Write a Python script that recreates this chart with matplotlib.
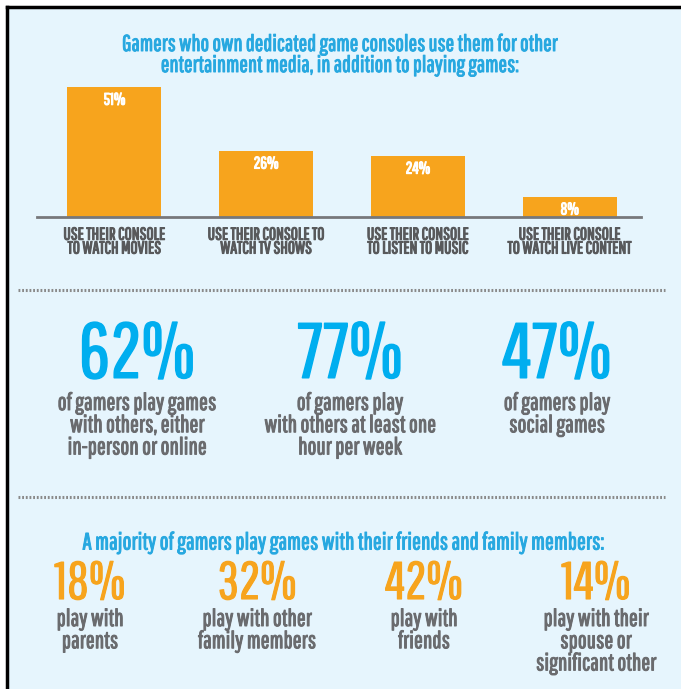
import matplotlib.pyplot as plt
import matplotlib.patheffects as pe
from matplotlib import font_manager
from matplotlib.patches import Rectangle
from matplotlib.lines import Line2D

# console usage bars
uses = ["USE THEIR CONSOLE\nTO WATCH MOVIES", "USE THEIR CONSOLE TO\nWATCH TV SHOWS",
        "USE THEIR CONSOLE\nTO LISTEN TO MUSIC", "USE THEIR CONSOLE\nTO WATCH LIVE CONTENT"]
use_pct = [51, 26, 24, 8]

# big blue stats
social_pct = [62, 77, 47]
social_text = ["of gamers play games\nwith others, either\nin-person or online",
               "of gamers play\nwith others at least one\nhour per week",
               "of gamers play\nsocial games"]

# who they play with
with_pct = [18, 32, 42, 14]
with_text = ["play with\nparents", "play with other\nfamily members",
             "play with\nfriends", "play with their\nspouse or\nsignificant other"]

W, H = 681, 689
BG = "#e6f5fd"
ORANGE = "#f7a41d"
BLUE = "#00aeef"
TITLE_BLUE = "#27a8e0"
GRAY = "#6a6b6e"
DARK = "#58595b"

# pick a condensed gothic face
have = {f.name for f in font_manager.fontManager.ttflist}
for name in ["Pathway Gothic One", "Oswald", "Roboto Condensed", "Barlow Condensed",
             "Archivo Narrow", "PT Sans Narrow", "Liberation Sans"]:
    if name in have:
        FONT = name
        break
plt.rcParams["font.family"] = [FONT, "DejaVu Sans"]


def heavy(color, w=0.7):
    # fake a bolder weight, the face only comes in one
    return [pe.withStroke(linewidth=w, foreground=color)]


fig = plt.figure(figsize=(W / 100, H / 100), dpi=100, facecolor="white")


def px(x, y):
    return x / W, 1 - y / H


# panel background and black frame on top/left
fig.patches.append(Rectangle(px(7, H), (W - 7) / W, (H - 7) / H,
                             transform=fig.transFigure, facecolor=BG, edgecolor="none", zorder=-5))
fig.lines.append(Line2D([7 / W, 1], [1 - 7 / H] * 2, transform=fig.transFigure, color="black", lw=2.5))
fig.lines.append(Line2D([7 / W] * 2, [0, 1 - 7 / H], transform=fig.transFigure, color="black", lw=2.5))

fig.text(*px(339, 55), "Gamers who own dedicated game consoles use them for other\n"
         "entertainment media, in addition to playing games:",
         ha="center", va="center", color=TITLE_BLUE, fontsize=16.4, linespacing=1.0,
         path_effects=heavy(TITLE_BLUE))

# bar chart
ax = fig.add_axes([37 / W, 1 - 217 / H, 604 / W, 137 / H])
ax.set_facecolor("none")
xs = range(len(uses))
bars = ax.bar(xs, use_pct, width=0.62, color=ORANGE)
for b, v in zip(bars, use_pct):
    ax.text(b.get_x() + b.get_width() / 2, v - 1.9, f"{v}%", ha="center", va="top",
            color="white", fontsize=12, path_effects=heavy("white", 0.8))
ax.set_xlim(-0.51, 3.47)
ax.set_ylim(0, 53.7)
ax.set_yticks([])
ax.set_xticks(list(xs))
ax.set_xticklabels(uses, fontsize=12.5, color=DARK, linespacing=0.83)
for lab in ax.get_xticklabels():
    lab.set_path_effects(heavy(DARK, 0.8))
ax.tick_params(axis="x", length=0, pad=7)
for s in ["top", "left", "right"]:
    ax.spines[s].set_visible(False)
ax.spines["bottom"].set_color("#77787b")
ax.spines["bottom"].set_linewidth(2)

# dotted separators
for y in (290, 497):
    fig.lines.append(Line2D([18 / W, 665 / W], [1 - y / H] * 2, transform=fig.transFigure,
                            color="#8a8a8a", lw=2.2, linestyle=(0, (0.6, 0.6))))

for x, v, t in zip([137, 350, 557], social_pct, social_text):
    fig.text(*px(x, 356), f"{v}%", ha="center", va="center", color=BLUE, fontsize=56,
             path_effects=heavy(BLUE, 1.1))
    fig.text(*px(x, 393), t, ha="center", va="top", color=GRAY, fontsize=17, linespacing=1.07,
             path_effects=heavy(GRAY))

fig.text(*px(343, 543), "A majority of gamers play games with their friends and family members:",
         ha="center", va="center", color=TITLE_BLUE, fontsize=17, path_effects=heavy(TITLE_BLUE))

for x, v, t in zip([90, 257, 424, 596], with_pct, with_text):
    fig.text(*px(x, 584), f"{v}%", ha="center", va="center", color=ORANGE, fontsize=38,
             path_effects=heavy(ORANGE, 0.8))
    fig.text(*px(x, 609), t, ha="center", va="top", color=GRAY, fontsize=17, linespacing=1.07,
             path_effects=heavy(GRAY))

fig.savefig("out.png", dpi=100, facecolor="white")
